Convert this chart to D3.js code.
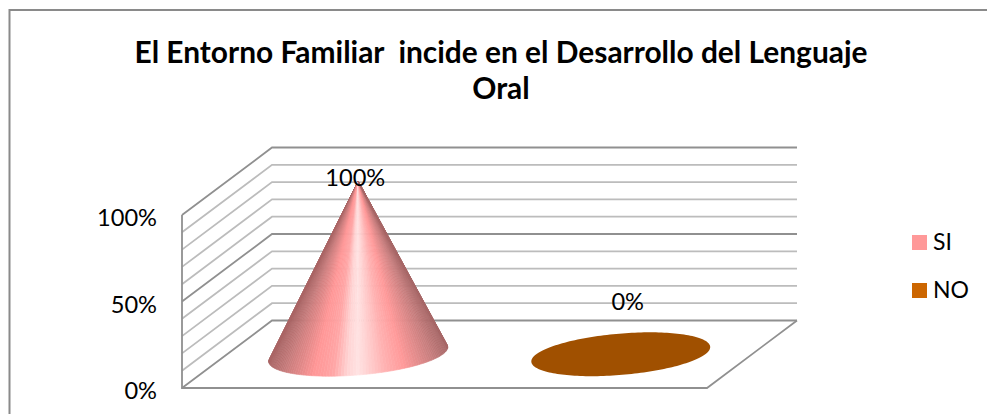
<!DOCTYPE html>
<html>
<head>
<meta charset="utf-8">
<script src="https://cdn.jsdelivr.net/npm/d3@7"></script>
<style>
  body { margin: 0; background: #fff; }
  svg { display: block; font-family: Lato, "Open Sans", sans-serif; }
  text { white-space: pre; fill: #000; }
</style>
</head>
<body>
<svg id="chart" width="987" height="414"></svg>
<script>
const titleLines = ["El Entorno Familiar  incide en el Desarrollo del Lenguaje", "Oral"];
const seriesNames = ["SI", "NO"];
const seriesValues = [1, 0];
const seriesColors = ["#ff9999", "#cc6600"];
const gridValues = [0, 0.1, 0.2, 0.3, 0.4, 0.5, 0.6, 0.7, 0.8, 0.9, 1];
const axisTicks = [0, 0.5, 1];

const svg = d3.select("#chart");
const width = 987, height = 414;

// outer chart frame, right and bottom fall outside the crop
svg.append("path")
  .attr("d", `M9.5,${height} V10 H${width}`)
  .attr("fill", "none")
  .attr("stroke", "#8a8a8a")
  .attr("stroke-width", 2);

svg.append("g").selectAll("text")
  .data(titleLines)
  .join("text")
  .attr("x", 501)
  .attr("y", (_, i) => 63 + i * 36)
  .attr("text-anchor", "middle")
  .attr("font-size", 29.9)
  .attr("font-weight", "bold")
  .text((d) => d);

// front plane of the 3d box
const x = d3.scaleLinear().domain([0, 1]).range([182, 707]);
const y = d3.scaleLinear().domain([0, 1]).range([388, 215]);
const depth = { x: 90, y: -67.5 };

// value space -> screen, w = position across, v = value, d = depth into the box
const project = (w, v, d) => [x(w) + depth.x * d, y(v) + depth.y * d];

const band = d3.scaleBand().domain(seriesNames).range([0, 1]);
const line = d3.line();

const grid = svg.append("g").attr("fill", "none");
grid.selectAll("path")
  .data(gridValues)
  .join("path")
  .attr("d", (v) => line([project(0, v, 0), project(0, v, 1), project(1, v, 1)]))
  .attr("stroke", (v) => (v % 0.5 === 0 ? "#909090" : "#bcbcbc"))
  .attr("stroke-width", 1.8);

// floor and left wall edges
grid.append("path")
  .attr("d", line([project(0, 1, 0), project(0, 0, 0), project(1, 0, 0), project(1, 0, 1)]))
  .attr("stroke", "#909090")
  .attr("stroke-width", 1.8);

svg.append("g")
  .attr("transform", `translate(157,3)`)
  .call(d3.axisLeft(y).tickValues(axisTicks).tickFormat(d3.format(".0%")).tickSize(0).tickPadding(0))
  .call((g) => g.select(".domain").remove())
  .call((g) => g.selectAll("text").attr("font-size", 23.6).attr("font-family", "Lato, sans-serif"));

// circle lying on the floor, seen through the box projection
const baseRadius = 0.161, baseDepth = 0.325;
const baseOutline = (name) => d3.range(0, 360, 2).map((deg) => {
  const t = deg * Math.PI / 180;
  const c = band(name) + band.bandwidth() / 2;
  return project(c + baseRadius * Math.cos(t), 0, 0.5 + baseDepth * Math.sin(t));
});

const shade = d3.scaleLinear()
  .domain([0, 0.08, 0.25, 0.36, 0.44, 0.5, 0.56, 0.66, 0.76, 0.92, 1])
  .range(["#a86464", "#c47a7a", "#ff9797", "#ffa6a6", "#ffd4d4", "#ffe2e2", "#ffd0d0", "#ffb0b0", "#ff9a9a", "#c87e7e", "#a86868"]);

const marks = svg.append("g");
seriesNames.forEach((name, i) => {
  const outline = baseOutline(name);
  const value = seriesValues[i];
  if (value === 0) {
    marks.append("path")
      .attr("d", line(outline) + "Z")
      .attr("fill", "#a05000");
    return;
  }
  const c = band(name) + band.bandwidth() / 2;
  const apex = project(c, value, 0.5);
  const hull = d3.polygonHull([...outline, apex]);
  const front = hull.filter((p) => p !== apex).sort((a, b) => a[0] - b[0]);
  const x0 = front[0][0], x1 = front[front.length - 1][0];
  // wedges from the tip so that the highlight narrows upward like a real cone
  d3.pairs(front).forEach(([a, b]) => {
    const col = shade(((a[0] + b[0]) / 2 - x0) / (x1 - x0));
    marks.append("path")
      .attr("d", line([apex, a, b]) + "Z")
      .attr("fill", col)
      .attr("stroke", col)
      .attr("stroke-width", 0.6);
  });
});

// data labels
svg.append("g").selectAll("text")
  .data(seriesNames)
  .join("text")
  .attr("x", (name, i) => project(band(name) + band.bandwidth() / 2, seriesValues[i], 0.5)[0] + (i ? 7 : -3))
  .attr("y", (name, i) => project(band(name) + band.bandwidth() / 2, seriesValues[i], 0.5)[1] + (i ? -44 : 5))
  .attr("text-anchor", "middle")
  .attr("font-size", 23.6)
  .text((_, i) => d3.format(".0%")(seriesValues[i]));

// legend
const legend = svg.append("g").selectAll("g")
  .data(seriesNames)
  .join("g")
  .attr("transform", (_, i) => `translate(912,${235 + i * 48})`);
legend.append("rect")
  .attr("width", 15)
  .attr("height", 15)
  .attr("fill", (_, i) => seriesColors[i]);
legend.append("text")
  .attr("x", 21)
  .attr("y", 15)
  .attr("font-size", 23)
  .text((d) => d);
</script>
</body>
</html>
